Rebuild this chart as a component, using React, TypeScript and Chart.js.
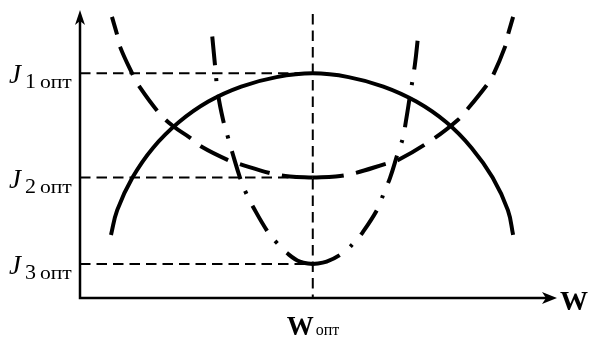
import React, { useEffect, useRef } from "react";
import { Chart, registerables } from "chart.js";

Chart.register(...registerables);

// Axis extents (arbitrary units)
const X_MAX = 10;
const Y_MAX = 10;

// Optimum point and the three optimum levels
const W_OPT = 4.88;
const J1_OPT = 7.8;
const J2_OPT = 4.18;
const J3_OPT = 1.18;
const GUIDE_TOP = 9.86;

// J1(W): solid arc with a maximum at W_opt
const arcX = [0.65, 0.78, 1.1, 1.53, 2.07, 2.69, 3.38, 4.12, 4.88, 5.63, 6.36, 7.05, 7.68, 8.21, 8.65, 8.97, 9.08];
const arcY = [2.19, 3.05, 4.18, 5.21, 6.1, 6.82, 7.34, 7.67, 7.8, 7.67, 7.34, 6.82, 6.1, 5.21, 4.18, 3.05, 2.19];

// J2(W): dashed U-curve with a minimum at W_opt
const uX = [0.67, 0.78, 0.84, 1.11, 1.22, 1.64, 1.95, 2.31, 2.56, 3.1, 3.35, 3.98, 4.4, 4.88, 5.36, 5.77, 6.39, 6.67, 7.44, 7.92, 8.11, 8.53, 8.66, 8.91, 8.97, 9.08];
const uY = [9.76, 9.13, 8.72, 7.74, 7.4, 6.46, 5.97, 5.56, 5.24, 4.79, 4.65, 4.34, 4.22, 4.18, 4.22, 4.34, 4.65, 4.79, 5.56, 6.18, 6.53, 7.4, 7.74, 8.72, 9.13, 9.76];

// J3(W): dash-dot parabola with a minimum at W_opt
const pX = [2.77, 2.83, 2.89, 3.0, 3.1, 3.19, 3.35, 3.48, 3.63, 3.94, 4.13, 4.34, 4.61, 4.88, 5.17, 5.51, 5.74, 5.93, 6.25, 6.37, 6.5, 6.67, 6.77, 6.83, 6.92, 7.02, 7.09];
const pY = [9.13, 8.09, 7.12, 6.18, 5.59, 5.07, 4.2, 3.65, 3.16, 2.29, 1.91, 1.56, 1.26, 1.18, 1.26, 1.56, 1.91, 2.29, 3.13, 3.65, 4.17, 5.07, 5.56, 6.11, 7.05, 8.09, 9.13];

// Level labels
const levelValues = [J1_OPT, J2_OPT, J3_OPT];
const levelIndices = ["1", "2", "3"];
const SUB = "опт";
const AXIS_NAME = "W";

const SERIF = '"Liberation Serif", "Times New Roman", serif';

type P = { x: number; y: number };

const toPoints = (xs: number[], ys: number[]): P[] => xs.map((x, i) => ({ x, y: ys[i] }));

// Split a curve at its minimum; both branches are stroked outward from the minimum
function branches(xs: number[], ys: number[]): [P[], P[]] {
  const pts = toPoints(xs, ys);
  let m = 0;
  ys.forEach((v, i) => {
    if (v < ys[m]) m = i;
  });
  return [pts.slice(0, m + 1).reverse(), pts.slice(m)];
}

const axesAndLabels = {
  id: "axesAndLabels",
  afterDraw(chart: any) {
    const { ctx, scales } = chart;
    const xs = scales.x;
    const ys = scales.y;
    const x0 = xs.getPixelForValue(0);
    const y0 = ys.getPixelForValue(0);
    const xEnd = xs.getPixelForValue(X_MAX);
    const yEnd = ys.getPixelForValue(Y_MAX);

    ctx.save();
    ctx.strokeStyle = "#000";
    ctx.fillStyle = "#000";
    ctx.lineWidth = 2.5;
    ctx.setLineDash([]);
    ctx.lineCap = "butt";

    // axis lines
    ctx.beginPath();
    ctx.moveTo(x0, y0 + 1.25);
    ctx.lineTo(x0, yEnd + 8);
    ctx.moveTo(x0 - 1.25, y0);
    ctx.lineTo(xEnd - 8, y0);
    ctx.stroke();

    // arrow heads
    ctx.beginPath();
    ctx.moveTo(x0, yEnd);
    ctx.lineTo(x0 - 5, yEnd + 15);
    ctx.lineTo(x0, yEnd + 11);
    ctx.lineTo(x0 + 5, yEnd + 15);
    ctx.closePath();
    ctx.fill();

    ctx.beginPath();
    ctx.moveTo(xEnd, y0);
    ctx.lineTo(xEnd - 15, y0 - 6);
    ctx.lineTo(xEnd - 11, y0);
    ctx.lineTo(xEnd - 15, y0 + 6);
    ctx.closePath();
    ctx.fill();

    // level labels J_k опт
    ctx.textBaseline = "alphabetic";
    ctx.textAlign = "left";
    levelValues.forEach((v, i) => {
      const y = ys.getPixelForValue(v);
      ctx.font = `italic 27px ${SERIF}`;
      ctx.fillText("J", 9, y + 10);
      ctx.font = `22px ${SERIF}`;
      ctx.fillText(levelIndices[i], 25, y + 15);
      ctx.save();
      ctx.translate(40, y + 15);
      ctx.scale(1.2, 1);
      ctx.font = `18px ${SERIF}`;
      ctx.fillText(SUB, 0, 0);
      ctx.restore();
    });

    // W_opt label under the axis
    const xo = xs.getPixelForValue(W_OPT);
    ctx.font = `bold 27px ${SERIF}`;
    ctx.fillText(AXIS_NAME, xo - 26, y0 + 37);
    ctx.font = `16px ${SERIF}`;
    ctx.fillText(SUB, xo + 3, y0 + 37);

    // axis name at the arrow
    ctx.font = `bold 28px ${SERIF}`;
    ctx.fillText(AXIS_NAME, xEnd + 3, y0 + 12);

    ctx.restore();
  },
};

export default function App() {
  const ref = useRef<HTMLCanvasElement | null>(null);

  useEffect(() => {
    if (!ref.current) return;
    const [uLeft, uRight] = branches(uX, uY);
    const [pLeft, pRight] = branches(pX, pY);

    const guide = (data: P[]) => ({
      data,
      borderColor: "#000",
      borderWidth: 2,
      borderDash: [10.5, 6],
      pointRadius: 0,
      showLine: true,
      fill: false,
      tension: 0,
      clip: false as any,
    });
    const curve = (data: P[], dash: number[]) => ({
      data,
      borderColor: "#000",
      borderWidth: 4,
      borderDash: dash,
      borderDashOffset: 0,
      pointRadius: 0,
      showLine: true,
      fill: false,
      tension: 0.4,
      clip: false as any,
    });

    const chart = new Chart(ref.current, {
      type: "scatter",
      data: {
        datasets: [
          guide([{ x: 0, y: J1_OPT }, { x: W_OPT, y: J1_OPT }]),
          guide([{ x: 0, y: J2_OPT }, { x: W_OPT, y: J2_OPT }]),
          guide([{ x: 0, y: J3_OPT }, { x: W_OPT, y: J3_OPT }]),
          guide([{ x: W_OPT, y: GUIDE_TOP }, { x: W_OPT, y: 0 }]),
          curve(toPoints(arcX, arcY), []),
          curve(uLeft, [31, 12.5]),
          curve(uRight, [31, 12.5]),
          curve(pLeft, [29, 13.5, 3, 13]),
          curve(pRight, [29, 13.5, 3, 13]),
        ] as any,
      },
      options: {
        responsive: false,
        animation: false,
        layout: { padding: { left: 80, right: 34, top: 10, bottom: 40 } },
        scales: {
          x: { type: "linear", min: 0, max: X_MAX, display: false },
          y: { type: "linear", min: 0, max: Y_MAX, display: false },
        },
        plugins: {
          legend: { display: false },
          tooltip: { enabled: false },
        },
        events: [],
      },
      plugins: [axesAndLabels],
    });

    return () => chart.destroy();
  }, []);

  return (
    <div style={{ position: "fixed", left: 0, top: 0, width: 591, height: 338, background: "#fff" }}>
      <canvas ref={ref} width={591} height={338} style={{ display: "block" }} />
    </div>
  );
}
